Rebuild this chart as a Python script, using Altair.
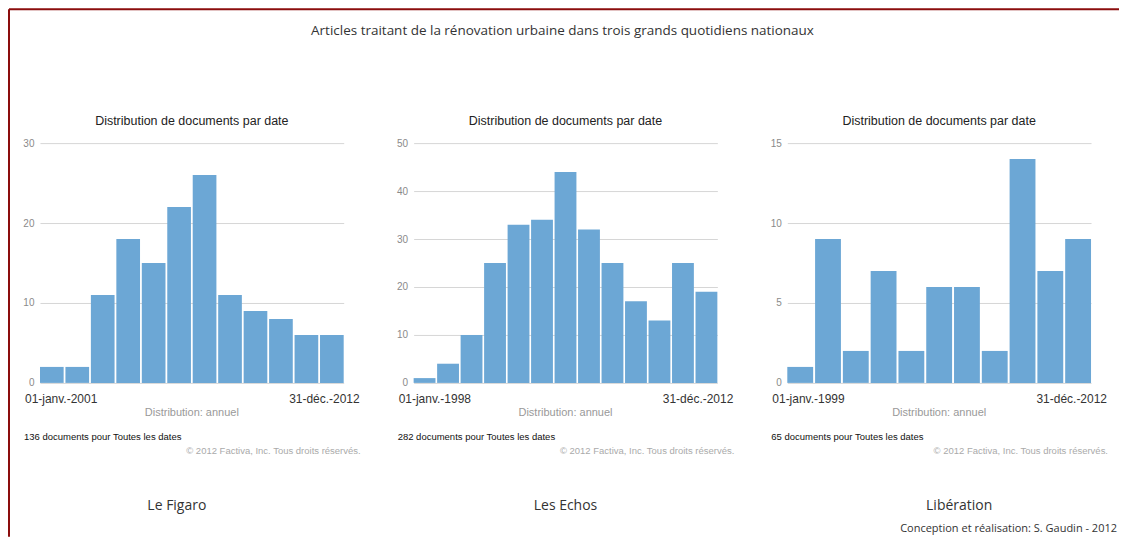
import altair as alt
import pandas as pd

# ---- data ----
figaro_bins = [1, 2, 3, 4, 5, 6, 7, 8, 9, 10, 11, 12]
figaro_counts = [2, 2, 11, 18, 15, 22, 26, 11, 9, 8, 6, 6]
echos_bins = [1, 2, 3, 4, 5, 6, 7, 8, 9, 10, 11, 12, 13]
echos_counts = [1, 4, 10, 25, 33, 34, 44, 32, 25, 17, 13, 25, 19]
liberation_bins = [1, 2, 3, 4, 5, 6, 7, 8, 9, 10, 11]
liberation_counts = [1, 9, 2, 7, 2, 6, 6, 2, 14, 7, 9]

papers = ["Le Figaro", "Les Echos", "Libération"]
start_labels = ["01-janv.-2001", "01-janv.-1998", "01-janv.-1999"]
end_label = "31-déc.-2012"
totals = [136, 282, 65]
y_ticks = [[0, 10, 20, 30], [0, 10, 20, 30, 40, 50], [0, 5, 10, 15]]

main_title = "Articles traitant de la rénovation urbaine dans trois grands quotidiens nationaux"
panel_title = "Distribution de documents par date"
dist_label = "Distribution: annuel"
copyright_label = "© 2012 Factiva, Inc. Tous droits réservés."
credit = "Conception  et réalisation: S. Gaudin - 2012"

W, H = 304, 240
BAR = "#6ca7d5"
BORDER = "#8b0d0d"
NARROW = "Liberation Sans, Arial"
TITLE_FONT = "Open Sans"


def txt(text, x, y, size, color="#333", align="left", font=NARROW, weight="normal"):
    return alt.Chart(pd.DataFrame({"t": [text]})).mark_text(
        align=align, baseline="middle", fontSize=size, color=color, font=font,
        fontWeight=weight,
    ).encode(x=alt.value(x), y=alt.value(y), text="t:N")


def panel(bins, counts, ticks, start, total, name, name_x, extra):
    df = pd.DataFrame({"bin": bins, "count": counts})
    bars = alt.Chart(df).mark_bar(color=BAR).encode(
        x=alt.X("bin:O", axis=None,
                scale=alt.Scale(paddingInner=0.07, paddingOuter=0)),
        y=alt.Y("count:Q",
                scale=alt.Scale(domain=[ticks[0], ticks[-1]], nice=False),
                axis=alt.Axis(values=ticks, title=None, grid=True,
                              gridColor="#d6d6d6", gridWidth=1,
                              domain=False, ticks=False, labelColor="#8a8a8a",
                              labelFontSize=10, labelPadding=6, labelFont=NARROW)),
    )
    layers = [
        bars,
        txt(panel_title, W / 2, -22, 12.5, "#222", "center"),
        txt(start, -15, 256, 12, "#333", "left"),
        txt(end_label, 320, 256, 12, "#333", "right"),
        txt(dist_label, W / 2, 270, 11, "#999", "center"),
        txt(f"{total} documents pour Toutes les dates", -16, 294, 9.5, "#111", "left"),
        txt(copyright_label, 321, 308, 9.5, "#aaa", "right"),
        txt(name, name_x, 363, 14, "#333", "center", TITLE_FONT),
    ] + extra
    return alt.layer(*layers).properties(width=W, height=H)


frame = [
    alt.Chart(pd.DataFrame({"a": [0]})).mark_rule(color=BORDER, strokeWidth=2).encode(
        x=alt.value(-31), y=alt.value(-134), y2=alt.value(394)),
    alt.Chart(pd.DataFrame({"a": [0]})).mark_rule(color=BORDER, strokeWidth=2).encode(
        x=alt.value(-31), x2=alt.value(1080), y=alt.value(-134)),
    txt(main_title, 523, -112, 13.5, "#333", "center", TITLE_FONT),
]

p1 = panel(figaro_bins, figaro_counts, y_ticks[0], start_labels[0], totals[0],
           papers[0], 137, frame)
p2 = panel(echos_bins, echos_counts, y_ticks[1], start_labels[1], totals[1],
           papers[1], 152, [])
p3 = panel(liberation_bins, liberation_counts, y_ticks[2], start_labels[2], totals[2],
           papers[2], 172,
           [txt(credit, 330, 386, 11, "#333", "right", TITLE_FONT)])

chart = alt.hconcat(p1, p2, p3, spacing=70, bounds="flush").properties(
    padding=0, background="white"
).configure_view(stroke=None)

chart.save("out.html", embed_options={"renderer": "svg", "actions": False})
